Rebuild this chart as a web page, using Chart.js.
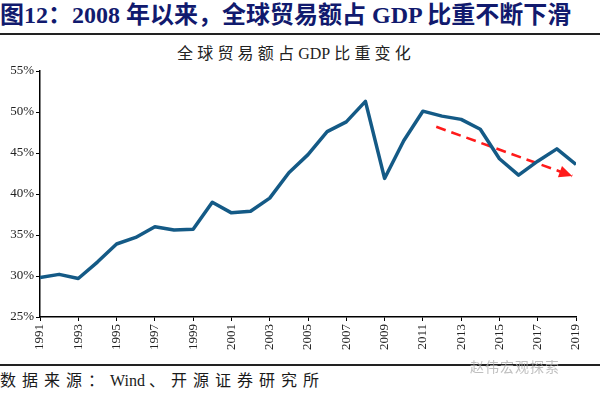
<!DOCTYPE html>
<html>
<head>
<meta charset="utf-8">
<script src="https://cdn.jsdelivr.net/npm/chart.js@4"></script>
<style>
  html, body { margin:0; padding:0; background:#fff; width:600px; height:396px; overflow:hidden; }
  #title { position:absolute; left:0; top:0; width:600px; height:30px; line-height:30px;
    font-family:"Liberation Serif","Noto Sans CJK SC",serif; font-weight:bold; font-size:24px;
    color:#111a6e; white-space:nowrap; }
  #topline { position:absolute; left:0; top:33px; width:600px; height:2px; background:#222; }
  #subtitle { position:absolute; left:177px; top:45px;
    font-family:"Liberation Serif","Noto Sans CJK SC",serif; font-size:16px; line-height:18px;
    color:#222; white-space:nowrap; }
  .sp5 { letter-spacing:4.2px; }
  .sp0 { letter-spacing:0; margin-right:4px; }
  #botline { position:absolute; left:0; top:364px; width:600px; height:2px; background:#222; }
  #source { position:absolute; left:0; top:371px; font-family:"Liberation Serif","Noto Sans CJK SC",serif;
    font-size:16px; line-height:20px; color:#1a1a1a; white-space:nowrap; }
  .fs { letter-spacing:6px; }
  .fw { letter-spacing:0; margin-right:4px; }
  #wm { position:absolute; left:470px; top:357px; font-family:"Noto Sans CJK SC",sans-serif;
    font-size:14px; line-height:18px; letter-spacing:1px; color:rgba(170,170,170,0.75); white-space:nowrap; }
  #wrap { position:absolute; left:0; top:40px; width:600px; height:320px; }
</style>
</head>
<body>
<div id="title">图12：2008 年以来，全球贸易额占 GDP 比重不断下滑</div>
<div id="topline"></div>
<div id="subtitle"><span class="sp5">全球贸易额占</span><span class="sp0">GDP</span><span class="sp5">比重变化</span></div>
<div id="wrap"><canvas id="c" width="600" height="320"></canvas></div>
<div id="botline"></div>
<div id="wm">赵伟宏观探索</div>
<div id="source"><span class="fs">数据来源：</span><span class="fw">Wind</span><span class="fs">、开源证券研究所</span></div>
<script>
// ---- data ----
const years = [1991,1992,1993,1994,1995,1996,1997,1998,1999,2000,2001,2002,2003,2004,2005,2006,2007,2008,2009,2010,2011,2012,2013,2014,2015,2016,2017,2018,2019];
const tradeShare = [29.8,30.2,29.7,31.7,33.9,34.7,36.0,35.6,35.7,39.0,37.7,37.9,39.5,42.6,44.8,47.6,48.8,51.3,41.9,46.5,50.1,49.5,49.1,47.9,44.3,42.3,44.0,45.5,43.6];
const trendYears = [2011.7, 2018.8];
const trendValues = [48.2, 42.2];
const yTicks = [25,30,35,40,45,50,55];

const mainPoints = years.map((y,i)=>({x:y, y:tradeShare[i]}));
const trendPoints = trendYears.map((y,i)=>({x:y, y:trendValues[i]}));

const arrowHead = {
  id:'arrowHead',
  afterDatasetsDraw(chart){
    const meta = chart.getDatasetMeta(1);
    if(!meta || !meta.data.length) return;
    const p0 = meta.data[0], p1 = meta.data[meta.data.length-1];
    const ang = Math.atan2(p1.y-p0.y, p1.x-p0.x);
    const len = 13, half = 6;
    const ctx = chart.ctx;
    ctx.save();
    ctx.fillStyle = '#ff1a1a';
    ctx.beginPath();
    ctx.moveTo(p1.x, p1.y);
    ctx.lineTo(p1.x - len*Math.cos(ang) + half*Math.sin(ang), p1.y - len*Math.sin(ang) - half*Math.cos(ang));
    ctx.lineTo(p1.x - len*Math.cos(ang) - half*Math.sin(ang), p1.y - len*Math.sin(ang) + half*Math.cos(ang));
    ctx.closePath();
    ctx.fill();
    ctx.restore();
  }
};

const serif = "'Liberation Serif','Times New Roman',serif";
new Chart(document.getElementById('c'), {
  type:'line',
  data:{
    datasets:[
      { data: mainPoints, borderColor:'#145a86', borderWidth:3.5, pointRadius:0, tension:0, fill:false, borderJoinStyle:'round' },
      { data: trendPoints, borderColor:'#ff1a1a', borderWidth:2.6, borderDash:[10,6], pointRadius:0, tension:0, fill:false }
    ]
  },
  options:{
    responsive:false,
    animation:false,
    devicePixelRatio:1,
    layout:{ padding:{ top:31, right:24, left:0, bottom:0 } },
    plugins:{ legend:{display:false}, tooltip:{enabled:false}, title:{display:false} },
    scales:{
      x:{
        type:'linear', min:1991, max:2019,
        afterFit(s){ s.height = 43; },
        border:{ display:true, color:'#000', width:1.5 },
        grid:{ display:true, drawOnChartArea:false, drawTicks:true, tickLength:4, color:'#000', lineWidth:1 },
        ticks:{ stepSize:2, maxRotation:90, minRotation:90, autoSkip:false, padding:3,
          font:{ family:serif, size:13 }, color:'#222',
          callback:(v)=>String(v) }
      },
      y:{
        min:yTicks[0], max:yTicks[yTicks.length-1],
        afterFit(s){ s.width = 40; },
        afterBuildTicks(s){ s.ticks = yTicks.map(v=>({value:v})); },
        border:{ display:true, color:'#000', width:1.5 },
        grid:{ display:true, drawOnChartArea:false, drawTicks:true, tickLength:4, color:'#000', lineWidth:1 },
        ticks:{ padding:2, font:{ family:serif, size:13 }, color:'#222',
          callback:(v)=>v+'%' }
      }
    }
  },
  plugins:[arrowHead]
});
</script>
</body>
</html>
